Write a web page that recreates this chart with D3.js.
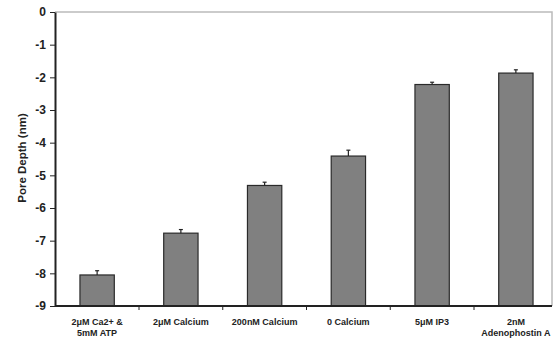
<!DOCTYPE html>
<html><head><meta charset="utf-8">
<script src="https://cdn.jsdelivr.net/npm/d3@7"></script>
<style>body{margin:0;background:#fff}svg{display:block}text{font-family:"Liberation Sans",Arial,sans-serif}</style>
</head><body>
<svg id="c" width="555" height="339"></svg>
<script>
const categories = [["2\u03bcM Ca2+ &","5mM ATP"],["2\u03bcM Calcium"],["200nM Calcium"],["0 Calcium"],["5\u03bcM IP3"],["2nM","Adenophostin A"]];
const values = [-8.05, -6.77, -5.31, -4.41, -2.22, -1.87];
const errors = [0.13, 0.11, 0.1, 0.18, 0.07, 0.1];
const yTicks = [0,-1,-2,-3,-4,-5,-6,-7,-8,-9];

const svg = d3.select("#c");
const x = d3.scaleBand().domain(d3.range(categories.length)).range([55.25, 557.75]).paddingInner(0.59).paddingOuter(0.295);
const y = d3.scaleLinear().domain([-9, 0]).range([306, 12]);

// plot border (top, right) gray
svg.append("path").attr("d", `M55,${y(0)}H552V${y(-9)}`).attr("fill","none").attr("stroke","#bbb").attr("stroke-width",1.5);

// bars
svg.selectAll("rect.bar").data(values).join("rect")
  .attr("x",(d,i)=>x(i)).attr("width",x.bandwidth())
  .attr("y",d=>y(d)).attr("height",d=>y(-9)-y(d))
  .attr("fill","#808080").attr("stroke","#2a2a2a").attr("stroke-width",1.2);

// error bars (plus only)
values.forEach((d,i)=>{
  const cx = x(i)+x.bandwidth()/2;
  svg.append("line").attr("x1",cx).attr("x2",cx).attr("y1",y(d)).attr("y2",y(d+errors[i])).attr("stroke","#222").attr("stroke-width",1.2);
  svg.append("line").attr("x1",cx-2).attr("x2",cx+2).attr("y1",y(d+errors[i])).attr("y2",y(d+errors[i])).attr("stroke","#222").attr("stroke-width",1.2);
});

// y axis
const ya = svg.append("g").attr("transform","translate(55,0)")
  .call(d3.axisLeft(y).tickValues(yTicks).tickFormat(d=>String(d)).tickSize(5).tickSizeOuter(0));
ya.select(".domain").attr("stroke","#222").attr("stroke-width",2);
ya.selectAll(".tick line").attr("stroke","#222").attr("stroke-width",1);
ya.selectAll(".tick text").attr("font-size",12).attr("font-weight","bold").attr("fill","#222").attr("x",-9).attr("font-family","'Liberation Sans',Arial,sans-serif");

// x axis
const step = x.step();
const xa = svg.append("g").attr("transform",`translate(0,${y(-9)})`);
xa.append("line").attr("x1",55).attr("x2",552).attr("stroke","#222").attr("stroke-width",2);
d3.range(1,categories.length).forEach(k=>{
  const tx = 55.25 + k*step;
  xa.append("line").attr("x1",tx).attr("x2",tx).attr("y1",0).attr("y2",4).attr("stroke","#222").attr("stroke-width",1);
});
categories.forEach((lines,i)=>{
  const t = svg.append("text").attr("text-anchor","middle").attr("font-size",9).attr("font-weight","bold").attr("fill","#222");
  lines.forEach((l,j)=>t.append("tspan").attr("x",x(i)+x.bandwidth()/2).attr("y",325+j*11).text(l));
});

// y label
svg.append("text").attr("transform","translate(26,158) rotate(-90)").attr("text-anchor","middle")
  .attr("font-size",11.5).attr("font-weight","bold").attr("fill","#222").text("Pore Depth (nm)");
</script>
</body></html>
